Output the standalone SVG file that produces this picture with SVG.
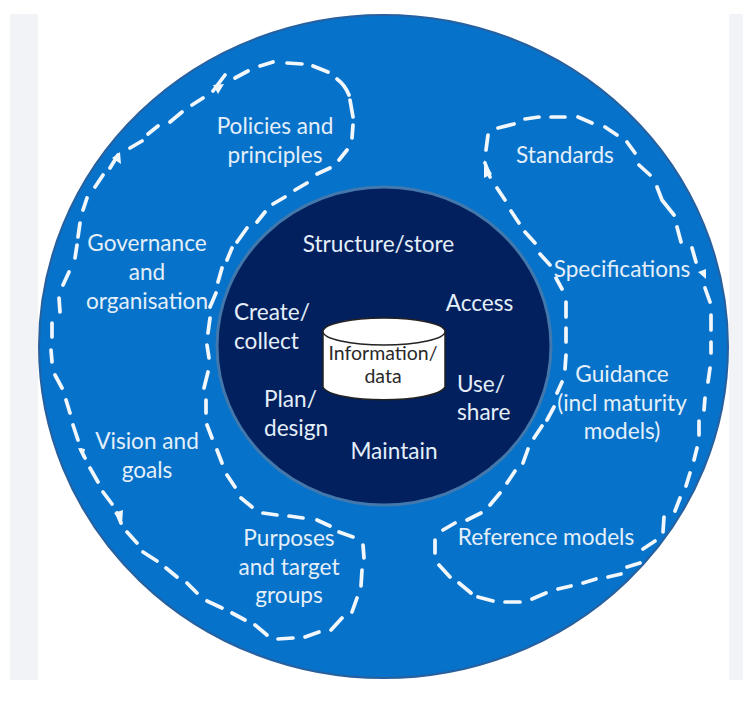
<svg xmlns="http://www.w3.org/2000/svg" width="743" height="701" viewBox="0 0 743 701">
<style>
.t{font-family:"Lato","Noto Sans",sans-serif;font-size:22.6px;fill:#e4eff9;text-anchor:middle}
.s{text-anchor:start}
.c{font-family:"Lato","Noto Sans",sans-serif;font-size:19.500px;fill:#2a2a2a;text-anchor:middle}
.d{fill:none;stroke:#f2f7fc;stroke-width:3.7;stroke-linecap:round;stroke-linejoin:round}
.a{fill:#f2f7fc}
</style>
<rect width="743" height="701" fill="#fff"/>
<rect x="10" y="14" width="28" height="666" fill="#f1f3f6"/>
<rect x="729" y="14" width="14" height="666" fill="#f1f3f6"/>
<g id="outer-ring"><ellipse cx="383.500" cy="346.500" rx="344.500" ry="331.500" fill="#0672c9" stroke="#27609f" stroke-width="2"/></g>
<g id="inner-circle"><ellipse cx="384" cy="346" rx="167" ry="159" fill="#03205e" stroke="#4278ac" stroke-width="3"/></g>
<g id="connectors">
<path id="left-loop" class="d" d="M235 78L248 71M260 66L273 62M287 63L302 64M313 66L328 72M337 79Q345 85 349 95M350 100L353 117M353 125L352 138M347 150L339 160M330 168L317 174M307 183L295 190M285 197L273 204M265 212L257 222M247 228L237 242M232 248L227 260M222 268L218 282M216 293L210 307M210 318L208 333M207 345L209 358M208 372L204 388M206 400L206 413M207 425L212 438M217 450L222 463M227 475L235 487M241 498L252 507M263 513L277 515M289 516L303 518M317 520L330 526M339 532L353 537M363 545L364 558M362 570L361 586M357 598L352 612M342 618L331 630M319 632L305 637M293 638L278 639M267 635L255 625M245 620L232 613M222 608L207 601M197 593L187 583M177 577L166 568M157 561L143 552M137 543L127 532M121 523L117 513M112 504L103 492M98 482L90 468M85 458L81 450M78 440L73 425M70 413L66 400M62 388L55 375M52 362L51 350M52 337L52 323M60 312L59 298M63 285L69 272M75 258L77 245M78 237L80 223M83 210L87 198M95 187L103 175M110 168L118 155M130 148L142 141M148 134L158 126M170 122L182 112M192 105L203 98M213 91L225 75"/>
<path id="right-loop" class="d" d="M498 128L514 124M525 119L539 117M551 117L565 117M578 117L592 123M605 127L617 135M627 142L635 153M639 165L650 175M657 187L662 200L674 215M677 227L681 242M692 248L696 262M705 288L710 302M711 315L711 330M711 342L711 353M710 368L708 382M705 398L704 410M699 421L699 435M697 448L694 460M690 473L686 486M680 498L675 511M664 517L663 532M655 541L643 549M640 563L627 567M621 574L608 577M596 579L583 583M571 586L558 589M546 593L532 599M520 602L505 602M493 601L478 597M471 593L459 583M450 577L439 565M435 553L435 540M443 530L455 523M467 520L481 513M490 505L500 493M507 483L515 471M523 463L528 449M534 438L542 426M547 420L554 407M557 393L562 382M565 369L566 355M566 342L566 328M566 317L566 302M562 289L556 278M550 265L540 254M535 243L525 232M519 223L511 211M505 200L497 188M490 177L485 163M486 150L488 135"/>
<path class="a" d="M213 85L224 84L218 94ZM112 158L120 152L121 164ZM78 448L85 449L83 458ZM114 513L123 510L122 524ZM484 160L492 174L484 178ZM698 272L706 269L706 279Z"/>
</g>
<g id="cylinder">
<path d="M323 331V387C332 404 435 404 445 387V331Z" fill="#fff" stroke="#222" stroke-width="1.500"/>
<ellipse cx="384" cy="331.500" rx="61" ry="13.500" fill="#fff" stroke="#222" stroke-width="1.500"/>
<text class="c" x="383" y="360">Information/</text>
<text class="c" x="383" y="383">data</text>
</g>
<g id="n-structure"><text class="t" x="378.500" y="252">Structure/store</text></g>
<g id="n-access"><text class="t" x="479.500" y="311">Access</text></g>
<g id="n-create"><text class="t s" x="234" y="320">Create/</text><text class="t s" x="234" y="349">collect</text></g>
<g id="n-use"><text class="t s" x="457" y="392">Use/</text><text class="t s" x="457" y="420">share</text></g>
<g id="n-plan"><text class="t s" x="264" y="407">Plan/</text><text class="t s" x="264" y="436">design</text></g>
<g id="n-maintain"><text class="t" x="394" y="459">Maintain</text></g>
<g id="n-policies"><text class="t" x="275" y="134">Policies and</text><text class="t" x="275" y="163">principles</text></g>
<g id="n-governance"><text class="t" x="147" y="251">Governance</text><text class="t" x="147" y="280">and</text><text class="t" x="147" y="309">organisation</text></g>
<g id="n-vision"><text class="t" x="147" y="449">Vision and</text><text class="t" x="147" y="478">goals</text></g>
<g id="n-purposes"><text class="t" x="289" y="546">Purposes</text><text class="t" x="289" y="575">and target</text><text class="t" x="289" y="603">groups</text></g>
<g id="n-standards"><text class="t" x="565" y="163">Standards</text></g>
<g id="n-specifications"><text class="t" x="622" y="277">Specifications</text></g>
<g id="n-guidance"><text class="t" x="622" y="382">Guidance</text><text class="t" x="622" y="411">(incl maturity</text><text class="t" x="622" y="439">models)</text></g>
<g id="n-reference"><text class="t" x="546" y="545">Reference models</text></g>
</svg>
